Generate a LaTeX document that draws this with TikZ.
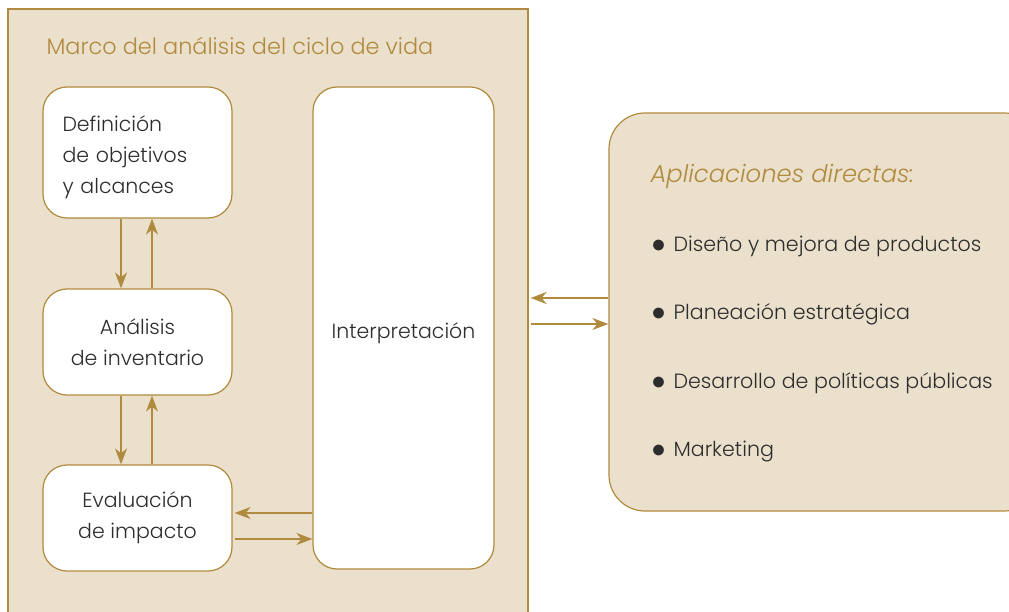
\documentclass[tikz,border=0pt]{standalone}
\usepackage{fontspec}
\setmainfont{Poppins}[UprightFont=* Light, ItalicFont=* Light Italic]
\usepackage{tikz}
\usetikzlibrary{arrows.meta,calc}
\definecolor{myGold}{RGB}{176,138,62}
\definecolor{myBeige}{RGB}{235,224,204}
\definecolor{myText}{RGB}{45,45,45}

\begin{document}
\begin{tikzpicture}[x=1pt, y=1pt,
  kasten/.style={draw=myGold, line width=1.2pt, fill=white, rounded corners=24pt, text=myText, font=\fontsize{20.5}{31}\selectfont},
  pfeil/.style={myGold, line width=1.8pt, -{Stealth[length=16pt, width=12pt, inset=5pt]}}]
  \useasboundingbox (0,0) rectangle (1009,611);
  % Rahmen
  \node[draw=myGold, fill=myBeige, line width=1.2pt, minimum width=520pt, minimum height=612pt, inner sep=0pt] (marco) at (268,296) {};
  \node[myGold, anchor=west, font=\fontsize{22.4}{26}\selectfont] (titulo) at (43,565) {Marco del análisis del ciclo de vida};
  % Phasen
  \node[kasten, minimum width=189pt, minimum height=131pt, text width=150pt, text height=25pt, align=left] (def) at (137.5,458.5) {Definición\\de objetivos\\y alcances};
  \node[kasten, minimum width=189pt, minimum height=106pt, align=center] (ana) at (137.5,269) {Análisis\\de inventario};
  \node[kasten, minimum width=189pt, minimum height=106pt, align=center] (eva) at (137.5,93) {Evaluación\\de impacto};
  \node[kasten, minimum width=181pt, minimum height=482pt, text height=27pt] (int) at (403.5,283) {Interpretación};
  % Aplicaciones
  \node[draw=myGold, fill=myBeige, line width=1.2pt, rounded corners=36pt, minimum width=431pt, minimum height=398pt] (app) at (824.5,299) {};
  \node[myGold, anchor=west, font=\fontsize{24.3}{28}\selectfont\itshape] (apptit) at (647,434) {Aplicaciones directas:};
  \foreach \txt [count=\i] in {Diseño y mejora de productos, Planeación estratégica, Desarrollo de políticas públicas, Marketing} {
    \node[anchor=west, text=myText, font=\fontsize{20.6}{24}\selectfont] (punkt\i) at (648, {365-68.5*(\i-1)}) {\raisebox{-1pt}{\scalebox{1.35}{$\bullet$}}\hspace{8pt}\txt};
  }
  % Pfeile
  \draw[pfeil] ([xshift=-16.5pt]def.south) -- ([xshift=-16.5pt]ana.north);
  \draw[pfeil] ([xshift=14.5pt]ana.north) -- ([xshift=14.5pt]def.south);
  \draw[pfeil] ([xshift=-16.5pt]ana.south) -- ([xshift=-16.5pt]eva.north);
  \draw[pfeil] ([xshift=14.5pt]eva.north) -- ([xshift=14.5pt]ana.south);
  \draw[pfeil] ($(eva.east -| int.west)+(0,5)$) -- ($(eva.east)+(2,5)$);
  \draw[pfeil] ($(eva.east)+(2,-21)$) -- ($(eva.east -| int.west)+(0,-21)$);
  \draw[pfeil] ($(app.west)+(0,14)$) -- ($(app.west -| marco.east)+(2,14)$);
  \draw[pfeil] ($(app.west -| marco.east)+(2,-12)$) -- ($(app.west)+(0,-12)$);
\end{tikzpicture}
\end{document}
